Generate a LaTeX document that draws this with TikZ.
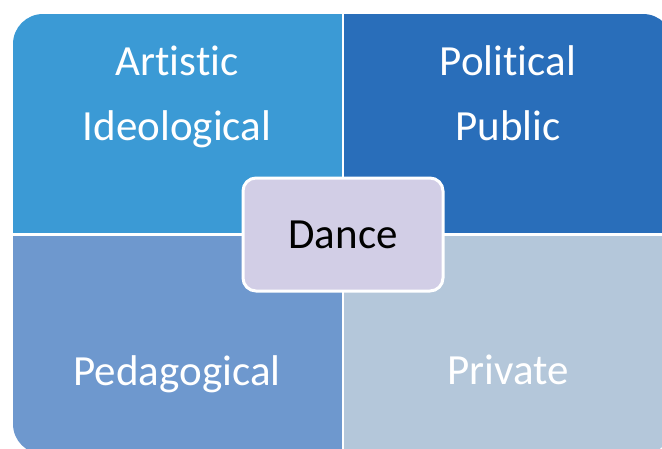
\documentclass[tikz,border=0pt]{standalone}
\usepackage{fontspec}
\setmainfont{Carlito}[RawFeature={-liga}]
\definecolor{qArtistic}{HTML}{3B9AD5}
\definecolor{qPolitical}{HTML}{296EBA}
\definecolor{qPedagogical}{HTML}{6E98CE}
\definecolor{qPrivate}{HTML}{B4C7DA}
\definecolor{hubFill}{HTML}{D2CEE6}
\begin{document}
\begin{tikzpicture}[x=1pt,y=-1pt,
  quadlabel/.style={text=white, inner sep=0pt, anchor=base,
    font=\fontsize{43pt}{50pt}\selectfont},
  hub/.style={draw=white, line width=3pt, fill=hubFill, rounded corners=13pt,
    minimum width=200pt, minimum height=113pt, inner sep=0pt,
    font=\fontsize{43pt}{50pt}\selectfont, text=black}]
\useasboundingbox (0,0) rectangle (662,448);
% four quadrants inside one rounded outline
\begin{scope}
  \clip[rounded corners=30pt] (13,14) rectangle (673,454);
  \fill[qArtistic]    (13,14)  rectangle (343,234);
  \fill[qPolitical]   (343,14) rectangle (673,234);
  \fill[qPedagogical] (13,234) rectangle (343,454);
  \fill[qPrivate]     (343,234) rectangle (673,454);
  % white gaps between the quadrants
  \draw[white, line width=2.8pt] (343,0) -- (343,460);
  \draw[white, line width=3pt] (0,234) -- (680,234);
\end{scope}
% quadrant labels
\node[quadlabel] (artistic)    at (177,75)  {Artistic};
\node[quadlabel] (ideological) at (177,140) {Ideological};
\node[quadlabel] (political)   at (508,75)  {Political};
\node[quadlabel] (public)      at (508,140) {Public};
\node[quadlabel] (pedagogical) at (177,385) {Pedagogical};
\node[quadlabel] (private)     at (508,384) {Private};
% central theme
\node[hub] (dance) at (343,234.5) {Dance};
\end{tikzpicture}
\end{document}
